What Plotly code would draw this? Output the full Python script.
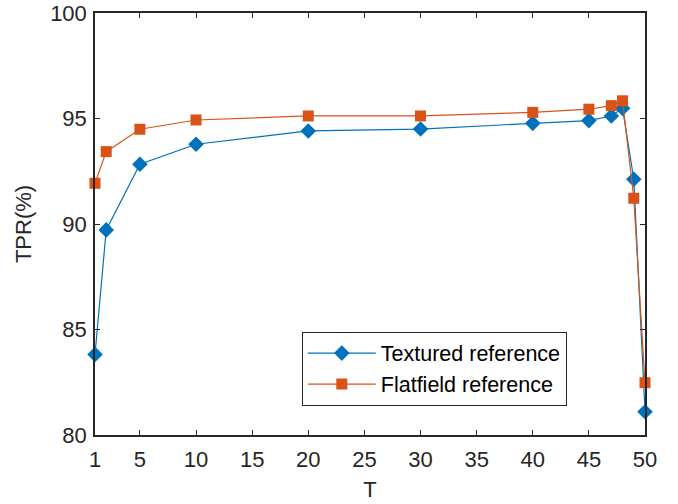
import plotly.graph_objects as go

T = [1, 2, 5, 10, 20, 30, 40, 45, 47, 48, 49, 50]
textured = [83.82, 89.72, 92.83, 93.78, 94.41, 94.5, 94.77, 94.9, 95.12, 95.48, 92.12, 81.1]
flatfield = [91.93, 93.43, 94.49, 94.93, 95.12, 95.12, 95.29, 95.44, 95.61, 95.84, 91.22, 82.48]
x_ticks = [1, 5, 10, 15, 20, 25, 30, 35, 40, 45, 50]
y_ticks = [80, 85, 90, 95, 100]

FONT = "Liberation Sans, Arial, Helvetica, sans-serif"
AX = "#262626"

fig = go.Figure()
fig.add_trace(go.Scatter(
    x=T, y=textured, mode="lines+markers", name="Textured reference",
    line=dict(color="#0072BD", width=1.2),
    marker=dict(symbol="diamond", size=12, color="#0072BD"),
    cliponaxis=False,
))
fig.add_trace(go.Scatter(
    x=T, y=flatfield, mode="lines+markers", name="Flatfield reference",
    line=dict(color="#D95319", width=1.2),
    marker=dict(symbol="square", size=11, color="#D95319"),
    cliponaxis=False,
))

axis_common = dict(
    showgrid=False, zeroline=False, showline=True, linecolor=AX, linewidth=1.5,
    mirror="ticks", ticks="inside", ticklen=5, tickcolor=AX, tickwidth=1.2,
    tickfont=dict(family=FONT, size=22, color=AX), automargin=False,
)

fig.update_layout(
    width=678, height=504,
    margin=dict(l=95, r=33, t=13, b=69),
    paper_bgcolor="white", plot_bgcolor="white",
    font=dict(family=FONT, color=AX),
    showlegend=True,
    legend=dict(
        x=0.376, y=0.245, xanchor="left", yanchor="top",
        bgcolor="white", bordercolor=AX, borderwidth=1,
        font=dict(family=FONT, size=21.5, color="black"),
        itemwidth=68, tracegroupgap=0,
    ),
    xaxis=dict(range=[1, 50], tickvals=x_ticks, ticklabelstandoff=4,
               title=dict(text="T", font=dict(family=FONT, size=22, color=AX), standoff=10),
               **axis_common),
    yaxis=dict(range=[80, 100], tickvals=y_ticks, ticklabelstandoff=2,
               title=dict(text="TPR(%)", font=dict(family=FONT, size=22, color=AX), standoff=12),
               **axis_common),
)

fig.write_html("out.html")
